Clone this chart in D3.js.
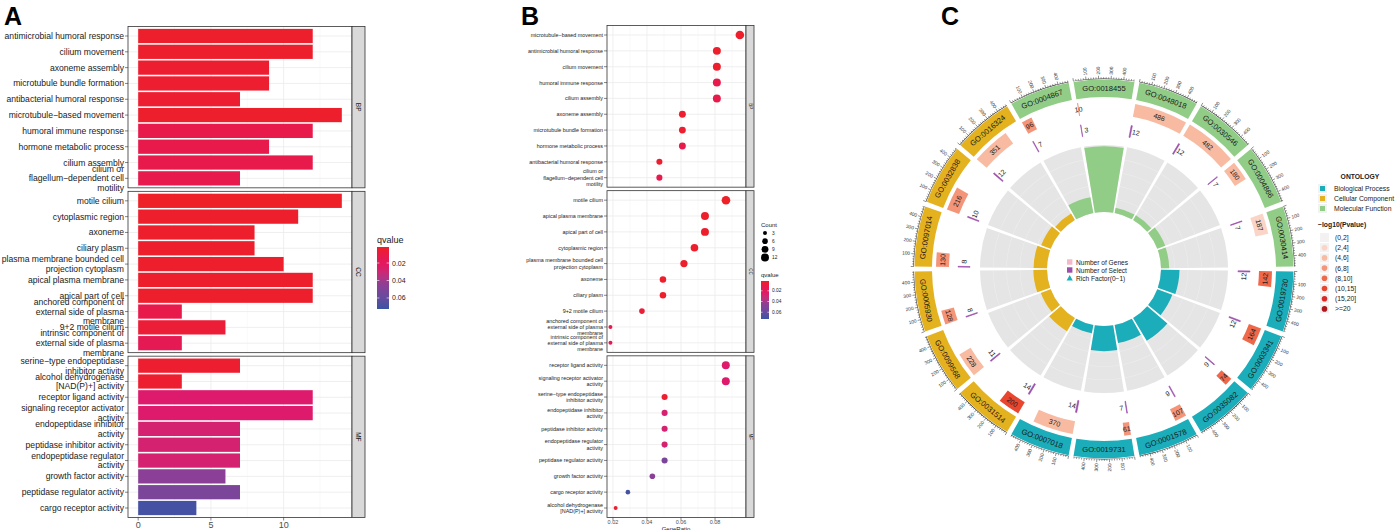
<!DOCTYPE html>
<html>
<head>
<meta charset="utf-8">
<script src="https://cdn.jsdelivr.net/npm/d3@7"></script>
<style>
  body { margin: 0; background: #fff; }
  svg { font-family: "Liberation Sans", Arial, Helvetica, sans-serif; }
</style>
</head>
<body>
<svg id="fig" width="1398" height="530"></svg>
<script>
// ---------------- data : panels A and B ----------------
const bpTerms = ["antimicrobial humoral response", "cilium movement", "axoneme assembly",
  "microtubule bundle formation", "antibacterial humoral response", "microtubule\u2212based movement",
  "humoral immune response", "hormone metabolic process", "cilium assembly",
  "cilium or\nflagellum\u2212dependent cell\nmotility"];
const bpCount = [12, 12, 9, 9, 7, 14, 12, 9, 12, 7];
const bpQ = [0.003, 0.003, 0.004, 0.004, 0.004, 0.003, 0.012, 0.012, 0.012, 0.013];

const ccTerms = ["motile cilium", "cytoplasmic region", "axoneme", "ciliary plasm",
  "plasma membrane bounded cell\nprojection cytoplasm", "apical plasma membrane", "apical part of cell",
  "anchored component of\nexternal side of plasma\nmembrane", "9+2 motile cilium",
  "intrinsic component of\nexternal side of plasma\nmembrane"];
const ccCount = [14, 11, 8, 8, 10, 12, 12, 3, 6, 3];
const ccQ = [0.002, 0.003, 0.003, 0.003, 0.003, 0.003, 0.003, 0.012, 0.006, 0.016];

const mfTerms = ["serine\u2212type endopeptidase\ninhibitor activity", "alcohol dehydrogenase\n[NAD(P)+] activity",
  "receptor ligand activity", "signaling receptor activator\nactivity", "endopeptidase inhibitor\nactivity",
  "peptidase inhibitor activity", "endopeptidase regulator\nactivity", "growth factor activity",
  "peptidase regulator activity", "cargo receptor activity"];
const mfCount = [7, 3, 12, 12, 7, 7, 7, 6, 7, 4];
const mfQ = [0.004, 0.004, 0.026, 0.026, 0.028, 0.028, 0.028, 0.045, 0.052, 0.070];

const ontologies = ["BP", "CC", "MF"];
const ratioSize = [148, 162, 139];          // GeneRatio denominators (count / size)
const aTicks = [0, 5, 10];
const bTicks = [0.02, 0.04, 0.06, 0.08];
const qTicks = [0.02, 0.04, 0.06];
const countLegend = [3, 6, 9, 12];

// ---------------- data : panel C ----------------
const goIds = ["GO:0018455", "GO:0048018", "GO:0030546", "GO:0004866", "GO:0030414", "GO:0019730",
  "GO:0003341", "GO:0035082", "GO:0001578", "GO:0019731", "GO:0007018", "GO:0031514",
  "GO:0099568", "GO:0005930", "GO:0097014", "GO:0032838", "GO:0016324", "GO:0004867"];
const goOnt = ["MF", "MF", "MF", "MF", "MF", "BP", "BP", "BP", "BP", "BP", "BP",
  "CC", "CC", "CC", "CC", "CC", "CC", "MF"];
const goGenes = [10, 486, 482, 180, 187, 142, 164, 74, 107, 61, 370, 200, 228, 128, 130, 216, 351, 96];
const goSelect = [3, 12, 12, 7, 7, 12, 12, 9, 9, 7, 14, 14, 11, 8, 8, 10, 12, 7];
const goPcat = [3, 2, 2, 2, 1, 4, 4, 4, 3, 3, 2, 5, 2, 3, 3, 3, 2, 3];   // index into pvalLevels
const pvalLevels = ["(0,2]", "(2,4]", "(4,6]", "(6,8]", "(8,10]", "(10,15]", "(15,20]", ">=20"];
const ontNames = ["Biological Process", "Cellular Component", "Molecular Function"];
const cTicks = [100, 200, 300, 400];

// ---------------- styles ----------------
const pvalColors = ["#F3F0EF", "#FAD5C7", "#F8BBA2", "#F4957A", "#EF6849", "#E8462F", "#DA2A27", "#B0171D"];
const ontColors = { BP: "#1BADB9", CC: "#E4B11F", MF: "#92CD87" };
const qDomain = [0.0017, 0.0726];
const qColor = d3.scaleLinear()
  .domain([0.0017, 0.012, 0.026, 0.045, 0.0726])
  .range(["#EE2027", "#E8194B", "#DD1A6B", "#8B3F96", "#3A53A4"])
  .interpolate(d3.interpolateLab);

const svg = d3.select("#fig");

// panel letters
[["A", 4], ["B", 521], ["C", 941]].forEach(([t, x]) => {
  svg.append("text").attr("x", x).attr("y", 25).attr("font-size", 25)
    .attr("font-weight", "bold").attr("fill", "#000").text(t);
});

function rowsOf(terms, counts, qs, size) {
  return terms.map((t, i) => ({ label: t, count: counts[i], q: qs[i], ratio: counts[i] / size }));
}
const groupsA = [
  { name: "BP", rows: rowsOf(bpTerms, bpCount, bpQ, ratioSize[0]) },
  { name: "CC", rows: rowsOf(ccTerms, ccCount, ccQ, ratioSize[1]) },
  { name: "MF", rows: rowsOf(mfTerms, mfCount, mfQ, ratioSize[2]) }
];
// panel B orders rows by GeneRatio (stable for ties)
const groupsB = groupsA.map(g => ({
  name: g.name,
  rows: g.rows.map((d, i) => ({ d, i })).sort((a, b) => b.d.count - a.d.count || a.i - b.i).map(o => o.d)
}));

function drawFacets(cfg) {
  const g = svg.append("g");
  const n = cfg.groups.length;
  const ph = (cfg.bottom - cfg.top - cfg.gap * (n - 1)) / n;
  const x = cfg.x;
  const [x0, x1] = x.range();

  cfg.groups.forEach((grp, gi) => {
    const y0 = cfg.top + gi * (ph + cfg.gap);
    const y = d3.scalePoint().domain(grp.rows.map(d => d.label))
      .range([y0, y0 + ph]).padding(0.6);
    const pg = g.append("g");

    pg.append("rect").attr("x", x0).attr("y", y0).attr("width", x1 - x0).attr("height", ph)
      .attr("fill", "#fff");
    pg.selectAll("line.gmin").data(cfg.minor).join("line").attr("class", "gmin")
      .attr("x1", d => x(d)).attr("x2", d => x(d)).attr("y1", y0).attr("y2", y0 + ph)
      .attr("stroke", "#F3F3F3").attr("stroke-width", 0.5);
    pg.selectAll("line.gmaj").data(cfg.ticks).join("line").attr("class", "gmaj")
      .attr("x1", d => x(d)).attr("x2", d => x(d)).attr("y1", y0).attr("y2", y0 + ph)
      .attr("stroke", "#EBEBEB").attr("stroke-width", 0.8);
    pg.selectAll("line.gh").data(grp.rows).join("line").attr("class", "gh")
      .attr("x1", x0).attr("x2", x1).attr("y1", d => y(d.label)).attr("y2", d => y(d.label))
      .attr("stroke", "#EBEBEB").attr("stroke-width", 0.8);

    if (cfg.mark === "bar") {
      const bw = y.step() * 0.9;
      pg.selectAll("rect.bar").data(grp.rows).join("rect").attr("class", "bar")
        .attr("x", x(0)).attr("y", d => y(d.label) - bw / 2)
        .attr("width", d => x(d.count) - x(0)).attr("height", bw)
        .attr("fill", d => qColor(d.q));
    } else {
      pg.selectAll("circle.dot").data(grp.rows).join("circle").attr("class", "dot")
        .attr("cx", d => x(d.ratio)).attr("cy", d => y(d.label))
        .attr("r", d => cfg.size(d.count)).attr("fill", d => qColor(d.q));
    }

    pg.append("rect").attr("x", x0).attr("y", y0).attr("width", x1 - x0).attr("height", ph)
      .attr("fill", "none").attr("stroke", "#333").attr("stroke-width", 0.8);

    // strip
    pg.append("rect").attr("x", x1).attr("y", y0).attr("width", cfg.stripW).attr("height", ph)
      .attr("fill", "#D9D9D9").attr("stroke", "#333").attr("stroke-width", 0.8);
    pg.append("text")
      .attr("transform", `translate(${x1 + cfg.stripW / 2},${y0 + ph / 2}) rotate(90)`)
      .attr("text-anchor", "middle").attr("dominant-baseline", "central")
      .attr("font-size", cfg.stripFont).attr("fill", "#1A1A1A").text(grp.name);

    // y axis
    pg.selectAll("line.yt").data(grp.rows).join("line").attr("class", "yt")
      .attr("x1", x0 - 3).attr("x2", x0).attr("y1", d => y(d.label)).attr("y2", d => y(d.label))
      .attr("stroke", "#333").attr("stroke-width", 0.6);
    grp.rows.forEach(d => {
      const lines = d.label.split("\n");
      const t = pg.append("text").attr("text-anchor", "end").attr("font-size", cfg.font)
        .attr("fill", "#1A1A1A").attr("dominant-baseline", "central");
      lines.forEach((ln, li) => {
        t.append("tspan").attr("x", x0 - 4)
          .attr("y", y(d.label) + (li - (lines.length - 1) / 2) * cfg.lineH).text(ln);
      });
    });
  });

  // x axis
  const xa = g.append("g");
  xa.selectAll("line").data(cfg.ticks).join("line")
    .attr("x1", d => x(d)).attr("x2", d => x(d))
    .attr("y1", cfg.bottom).attr("y2", cfg.bottom + 3)
    .attr("stroke", "#333").attr("stroke-width", 0.6);
  xa.selectAll("text").data(cfg.ticks).join("text")
    .attr("x", d => x(d)).attr("y", cfg.tickY).attr("text-anchor", "middle")
    .attr("font-size", cfg.tickFont).attr("fill", "#4D4D4D").text(cfg.fmt);
}

// ---------------- panel A ----------------
drawFacets({
  groups: groupsA, mark: "bar",
  x: d3.scaleLinear().domain([-0.7, 14.7]).range([128, 352]),
  ticks: aTicks, minor: [2.5, 7.5, 12.5], fmt: d => d,
  top: 26.5, bottom: 517.5, gap: 3.5, stripW: 13,
  font: 8.6, lineH: 9.8, stripFont: 6.5, tickFont: 9, tickY: 528
});

// qvalue legend
function qLegend(x, y, w, h, titleSize, labSize, gid) {
  const grad = svg.append("defs").append("linearGradient").attr("id", gid)
    .attr("x1", 0).attr("x2", 0).attr("y1", 0).attr("y2", 1);
  d3.range(0, 1.0001, 0.1).forEach(t => {
    grad.append("stop").attr("offset", t)
      .attr("stop-color", qColor(qDomain[0] + t * (qDomain[1] - qDomain[0])));
  });
  const yl = d3.scaleLinear().domain(qDomain).range([y, y + h]);
  svg.append("text").attr("x", x).attr("y", y - 4).attr("font-size", titleSize)
    .attr("fill", "#1A1A1A").text("qvalue");
  svg.append("rect").attr("x", x).attr("y", y).attr("width", w).attr("height", h)
    .attr("fill", `url(#${gid})`);
  qTicks.forEach(v => {
    svg.append("line").attr("x1", x).attr("x2", x + w * 0.2).attr("y1", yl(v)).attr("y2", yl(v))
      .attr("stroke", "#fff").attr("stroke-width", 0.6);
    svg.append("line").attr("x1", x + w * 0.8).attr("x2", x + w).attr("y1", yl(v)).attr("y2", yl(v))
      .attr("stroke", "#fff").attr("stroke-width", 0.6);
    svg.append("text").attr("x", x + w + 3).attr("y", yl(v)).attr("dominant-baseline", "central")
      .attr("font-size", labSize).attr("fill", "#1A1A1A").text(v.toFixed(2));
  });
}
qLegend(377, 247, 12, 62, 9, 7, "qgradA");

// ---------------- panel B ----------------
const sizeB = d3.scaleSqrt().domain([0, 14]).range([0, 4.3]);
drawFacets({
  groups: groupsB, mark: "dot", size: sizeB,
  x: d3.scaleLinear().domain([0.0165, 0.0982]).range([607, 746]),
  ticks: bTicks, minor: [0.03, 0.05, 0.07, 0.09], fmt: d => d.toFixed(2),
  top: 25.5, bottom: 517.5, gap: 3.5, stripW: 8,
  font: 5.4, lineH: 6.3, stripFont: 4.5, tickFont: 5.5, tickY: 524
});
svg.append("text").attr("x", 676).attr("y", 530.5).attr("text-anchor", "middle")
  .attr("font-size", 6).attr("fill", "#1A1A1A").text("GeneRatio");

// Count legend B
svg.append("text").attr("x", 761).attr("y", 227).attr("font-size", 6).attr("fill", "#1A1A1A").text("Count");
const cntY = d3.scalePoint().domain(countLegend).range([233, 257.5]);
countLegend.forEach(c => {
  svg.append("circle").attr("cx", 765).attr("cy", cntY(c)).attr("r", sizeB(c)).attr("fill", "#000");
  svg.append("text").attr("x", 772).attr("y", cntY(c)).attr("dominant-baseline", "central")
    .attr("font-size", 4.8).attr("fill", "#1A1A1A").text(c);
});
qLegend(761, 281, 8, 38, 6, 4.8, "qgradB");

// ---------------- panel C ----------------
const cx = 1104, cy = 269;
const R = { track0: 57, track1: 124, sel0: 134, sel1: 146, gene0: 155, gene1: 168, ont0: 172, ont1: 189.5 };
const gC = svg.append("g").attr("transform", `translate(${cx},${cy})`);
const band = d3.scaleBand().domain(goIds).range([-10, 350]).paddingInner(0.075).paddingOuter(0.0375);
const xMax = d3.max(goGenes);
const richMax = d3.max(goSelect.map((s, i) => s / goGenes[i])) * 1.02;
const rad = d => d * Math.PI / 180;
const polar = (r, deg) => [r * Math.sin(rad(deg)), -r * Math.cos(rad(deg))];
const arc = d3.arc();
const richR = d3.scaleLinear().domain([0, richMax]).range([R.track0, R.track1]);

function arcPath(r0, r1, a0, a1) {
  return arc({ innerRadius: r0, outerRadius: r1, startAngle: rad(a0), endAngle: rad(a1) });
}
function tangText(r, deg, txt, size) {
  const [x, y] = polar(r, deg);
  const nd = ((deg % 360) + 360) % 360;
  const rot = (nd > 90 && nd < 270) ? deg + 180 : deg;
  gC.append("text").attr("transform", `translate(${x},${y}) rotate(${rot})`)
    .attr("text-anchor", "middle").attr("dominant-baseline", "central")
    .attr("font-size", size).attr("fill", "#1A1A1A").text(txt);
}

goIds.forEach((id, i) => {
  const a0 = band(id), a1 = a0 + band.bandwidth(), mid = a0 + band.bandwidth() / 2;
  const ang = d3.scaleLinear().domain([0, xMax]).range([a0, a1]);
  const col = ontColors[goOnt[i]];

  // rich factor track
  gC.append("path").attr("d", arcPath(R.track0, R.track1, a0, a1)).attr("fill", "#E5E5E5");
  [0.2, 0.4, 0.6, 0.8].forEach(f => {
    const rr = R.track0 + f * (R.track1 - R.track0);
    gC.append("path").attr("d", arcPath(rr, rr + 0.5, a0, a1)).attr("fill", "#EEEEEE");
  });
  gC.append("path").attr("d", arcPath(R.track0, richR(goSelect[i] / goGenes[i]), a0, a1)).attr("fill", col);

  // number of select
  gC.append("path").attr("d", arcPath(R.sel0, R.sel1, ang(0), ang(goSelect[i])))
    .attr("fill", "#9C4FAB").attr("stroke", "#9C4FAB").attr("stroke-width", 0.6);
  tangText((R.sel0 + R.sel1) / 2, ang(goSelect[i] + 50), goSelect[i], 7);

  // number of genes
  gC.append("path").attr("d", arcPath(R.gene0, R.gene1, ang(0), ang(goGenes[i])))
    .attr("fill", pvalColors[goPcat[i]]);
  tangText((R.gene0 + R.gene1) / 2, ang(goGenes[i] / 2), goGenes[i], 7);

  // ontology ring with GO id
  gC.append("path").attr("d", arcPath(R.ont0, R.ont1, a0, a1)).attr("fill", col);
  tangText((R.ont0 + R.ont1) / 2, mid, id, 7.6);

  // axis
  gC.append("path").attr("d", arcPath(R.ont1 + 0.6, R.ont1 + 1.1, a0, a1)).attr("fill", "#222");
  d3.range(0, xMax, 20).forEach(v => {
    const major = v % 100 === 0;
    const [xa, ya] = polar(R.ont1 + 0.8, ang(v));
    const [xb, yb] = polar(R.ont1 + (major ? 3.8 : 2.3), ang(v));
    gC.append("line").attr("x1", xa).attr("y1", ya).attr("x2", xb).attr("y2", yb)
      .attr("stroke", "#222").attr("stroke-width", 0.5);
  });
  cTicks.forEach(v => {
    const deg = ang(v);
    const [xt, yt] = polar(R.ont1 + 5, deg);
    const right = mid < 180;
    gC.append("text").attr("transform", `translate(${xt},${yt}) rotate(${right ? deg - 90 : deg + 90})`)
      .attr("text-anchor", right ? "start" : "end").attr("dominant-baseline", "central")
      .attr("font-size", 4.8).attr("fill", "#333").text(v);
  });
});

// center legend
const centerItems = [["Number of Genes", "#F5B8C8", "rect"], ["Number of Select", "#9C4FAB", "rect"],
  ["Rich Factor(0\u22121)", "#1BADB9", "tri"]];
centerItems.forEach(([t, c, shape], i) => {
  const yy = 262 + i * 8;
  if (shape === "rect") {
    svg.append("rect").attr("x", 1067).attr("y", yy - 2.7).attr("width", 5.4).attr("height", 5.4).attr("fill", c);
  } else {
    svg.append("path").attr("d", `M1069.7,${yy - 3}L1072.8,${yy + 2.6}L1066.6,${yy + 2.6}Z`).attr("fill", c);
  }
  svg.append("text").attr("x", 1076).attr("y", yy).attr("dominant-baseline", "central")
    .attr("font-size", 6.6).attr("fill", "#1A1A1A").text(t);
});

// right legends
svg.append("text").attr("x", 1360).attr("y", 179).attr("text-anchor", "middle")
  .attr("font-size", 6.8).attr("font-weight", "bold").attr("fill", "#1A1A1A").text("ONTOLOGY");
ontologies.forEach((o, i) => {
  const yy = 188.5 + i * 10;
  svg.append("rect").attr("x", 1318).attr("y", yy - 4.5).attr("width", 9).attr("height", 9).attr("fill", "#F2F2F2");
  svg.append("rect").attr("x", 1320).attr("y", yy - 2.5).attr("width", 5).attr("height", 5).attr("fill", ontColors[o]);
  svg.append("text").attr("x", 1334).attr("y", yy).attr("dominant-baseline", "central")
    .attr("font-size", 6.8).attr("fill", "#1A1A1A").text(ontNames[i]);
});
svg.append("text").attr("x", 1318).attr("y", 227).attr("font-size", 6.8)
  .attr("font-weight", "bold").attr("fill", "#1A1A1A").text("\u2212log10(Pvalue)");
pvalLevels.forEach((lv, i) => {
  const yy = 237.5 + i * 10.2;
  svg.append("rect").attr("x", 1320).attr("y", yy - 4.5).attr("width", 9).attr("height", 9).attr("fill", "#F2F2F2");
  svg.append("circle").attr("cx", 1324.5).attr("cy", yy).attr("r", 2.8).attr("fill", pvalColors[i]);
  svg.append("text").attr("x", 1335).attr("y", yy).attr("dominant-baseline", "central")
    .attr("font-size", 6.8).attr("fill", "#1A1A1A").text(lv);
});
</script>
</body>
</html>
